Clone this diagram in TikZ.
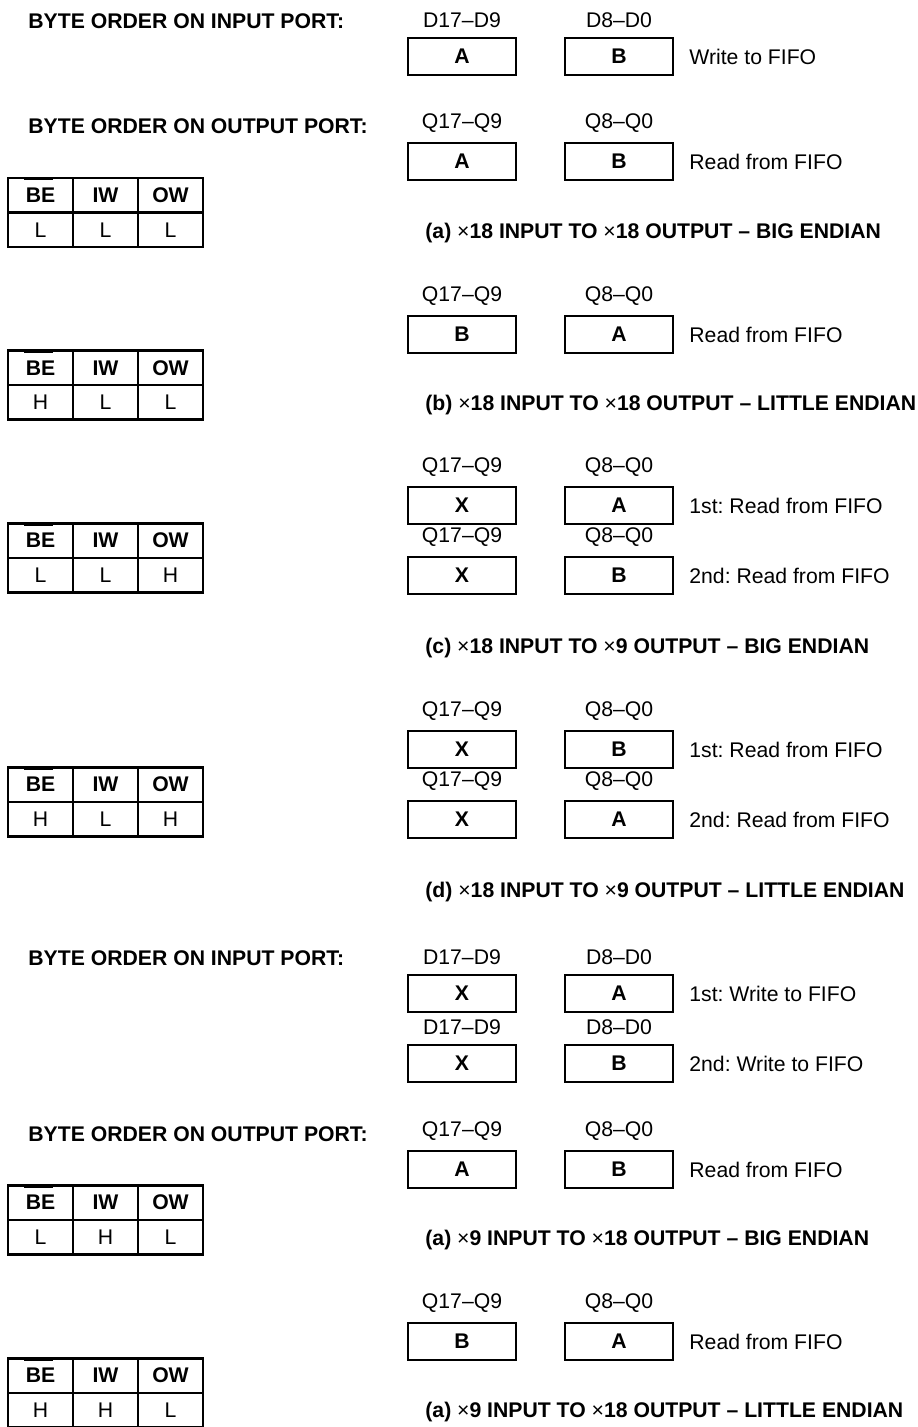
\documentclass[tikz,border=0pt]{standalone}
\usepackage{fontspec}
\setmainfont{Liberation Sans}
\usetikzlibrary{positioning}
\frenchspacing

\begin{document}
\begin{tikzpicture}[
    x=0.5pt, y=0.5pt,
    every node/.style={font=\fontsize{10.6}{12}\selectfont},
    byte/.style={rectangle, draw, line width=1.4pt, minimum width=54pt, minimum height=18.5pt, outer sep=0pt, inner sep=0pt, font=\fontsize{10.6}{12}\selectfont\bfseries},
    port/.style={inner sep=0pt},
    note/.style={inner sep=0pt},
    heading/.style={inner sep=0pt, anchor=west, font=\fontsize{10.6}{12}\selectfont\bfseries},
    caption/.style={inner sep=0pt, anchor=base west, font=\fontsize{10.6}{12}\selectfont\bfseries},
    cell/.style={rectangle, draw, line width=1.25pt, minimum width=32.5pt, minimum height=17.25pt, outer sep=0pt, inner sep=0pt},
    hcell/.style={cell, font=\fontsize{10.6}{12}\selectfont\bfseries},
    bar/.style={line width=1.7pt}
]
\useasboundingbox (0,0) rectangle (917,-1427);

% ===== (a) x18 TO x18, BIG ENDIAN =====
\node[heading] (a_hin) at (28,-21) {BYTE ORDER ON INPUT PORT:};
\node[byte] (a_in1) at (462,-56.5) {A};
\node[byte, right=24.5pt of a_in1] (a_in2) {B};
\node[port, above=4.85pt of a_in1] (a_in1_lbl) {D17–D9};
\node[port, above=4.85pt of a_in2] (a_in2_lbl) {D8–D0};
\node[note, right=8pt of a_in2] (a_in_note) {Write to FIFO};

\node[heading] (a_hout) at (28,-126) {BYTE ORDER ON OUTPUT PORT:};
\node[byte] (a_out1) at (462,-161.5) {A};
\node[byte, right=24.5pt of a_out1] (a_out2) {B};
\node[port, above=4.85pt of a_out1] (a_out1_lbl) {Q17–Q9};
\node[port, above=4.85pt of a_out2] (a_out2_lbl) {Q8–Q0};
\node[note, right=8pt of a_out2] (a_out_note) {Read from FIFO};

\node[hcell] (a_be) at (40.5,-195.25) {BE};
\node[hcell, right=0pt of a_be] (a_iw) {IW};
\node[hcell, right=0pt of a_iw] (a_ow) {OW};
\node[cell, below=0pt of a_be] (a_be_v) {L};
\node[cell, below=0pt of a_iw] (a_iw_v) {L};
\node[cell, below=0pt of a_ow] (a_ow_v) {L};
\draw[bar] ([xshift=-8.25pt,yshift=-0.3pt]a_be.north) -- ([xshift=6.25pt,yshift=-0.3pt]a_be.north);

\node[caption] (a_cap) at (425,-238.3) {(a) \textmd{×}18 INPUT TO \textmd{×}18 OUTPUT – BIG ENDIAN};

% ===== (b) x18 TO x18, LITTLE ENDIAN =====
\node[byte] (b_out1) at (462,-334.5) {B};
\node[byte, right=24.5pt of b_out1] (b_out2) {A};
\node[port, above=4.85pt of b_out1] (b_out1_lbl) {Q17–Q9};
\node[port, above=4.85pt of b_out2] (b_out2_lbl) {Q8–Q0};
\node[note, right=8pt of b_out2] (b_out_note) {Read from FIFO};

\node[hcell] (b_be) at (40.5,-368) {BE};
\node[hcell, right=0pt of b_be] (b_iw) {IW};
\node[hcell, right=0pt of b_iw] (b_ow) {OW};
\node[cell, below=0pt of b_be] (b_be_v) {H};
\node[cell, below=0pt of b_iw] (b_iw_v) {L};
\node[cell, below=0pt of b_ow] (b_ow_v) {L};
\draw[bar] ([xshift=-8.25pt,yshift=-0.3pt]b_be.north) -- ([xshift=6.25pt,yshift=-0.3pt]b_be.north);

\node[caption] (b_cap) at (425,-410.3) {(b) \textmd{×}18 INPUT TO \textmd{×}18 OUTPUT – LITTLE ENDIAN};

% ===== (c) x18 TO x9, BIG ENDIAN =====
\node[byte] (c_out1) at (462,-505.5) {X};
\node[byte, right=24.5pt of c_out1] (c_out2) {A};
\node[port, above=4.85pt of c_out1] (c_out1_lbl) {Q17–Q9};
\node[port, above=4.85pt of c_out2] (c_out2_lbl) {Q8–Q0};
\node[note, right=8pt of c_out2] (c_out_note) {1st: Read from FIFO};

\node[byte] (c_out3) at (462,-575.5) {X};
\node[byte, right=24.5pt of c_out3] (c_out4) {B};
\node[port, above=4.85pt of c_out3] (c_out3_lbl) {Q17–Q9};
\node[port, above=4.85pt of c_out4] (c_out4_lbl) {Q8–Q0};
\node[note, right=8pt of c_out4] (c_out_note2) {2nd: Read from FIFO};

\node[hcell] (c_be) at (40.5,-540.5) {BE};
\node[hcell, right=0pt of c_be] (c_iw) {IW};
\node[hcell, right=0pt of c_iw] (c_ow) {OW};
\node[cell, below=0pt of c_be] (c_be_v) {L};
\node[cell, below=0pt of c_iw] (c_iw_v) {L};
\node[cell, below=0pt of c_ow] (c_ow_v) {H};
\draw[bar] ([xshift=-8.25pt,yshift=-0.3pt]c_be.north) -- ([xshift=6.25pt,yshift=-0.3pt]c_be.north);

\node[caption] (c_cap) at (425,-653.3) {(c) \textmd{×}18 INPUT TO \textmd{×}9 OUTPUT – BIG ENDIAN};

% ===== (d) x18 TO x9, LITTLE ENDIAN =====
\node[byte] (d_out1) at (462,-749.5) {X};
\node[byte, right=24.5pt of d_out1] (d_out2) {B};
\node[port, above=4.85pt of d_out1] (d_out1_lbl) {Q17–Q9};
\node[port, above=4.85pt of d_out2] (d_out2_lbl) {Q8–Q0};
\node[note, right=8pt of d_out2] (d_out_note) {1st: Read from FIFO};

\node[byte] (d_out3) at (462,-819.5) {X};
\node[byte, right=24.5pt of d_out3] (d_out4) {A};
\node[port, above=4.85pt of d_out3] (d_out3_lbl) {Q17–Q9};
\node[port, above=4.85pt of d_out4] (d_out4_lbl) {Q8–Q0};
\node[note, right=8pt of d_out4] (d_out_note2) {2nd: Read from FIFO};

\node[hcell] (d_be) at (40.5,-784.5) {BE};
\node[hcell, right=0pt of d_be] (d_iw) {IW};
\node[hcell, right=0pt of d_iw] (d_ow) {OW};
\node[cell, below=0pt of d_be] (d_be_v) {H};
\node[cell, below=0pt of d_iw] (d_iw_v) {L};
\node[cell, below=0pt of d_ow] (d_ow_v) {H};
\draw[bar] ([xshift=-8.25pt,yshift=-0.3pt]d_be.north) -- ([xshift=6.25pt,yshift=-0.3pt]d_be.north);

\node[caption] (d_cap) at (425,-897.3) {(d) \textmd{×}18 INPUT TO \textmd{×}9 OUTPUT – LITTLE ENDIAN};

% ===== x9 TO x18, BIG ENDIAN =====
\node[heading] (e_hin) at (28,-958) {BYTE ORDER ON INPUT PORT:};
\node[byte] (e_in1) at (462,-993.5) {X};
\node[byte, right=24.5pt of e_in1] (e_in2) {A};
\node[port, above=4.85pt of e_in1] (e_in1_lbl) {D17–D9};
\node[port, above=4.85pt of e_in2] (e_in2_lbl) {D8–D0};
\node[note, right=8pt of e_in2] (e_in_note) {1st: Write to FIFO};

\node[byte] (e_in3) at (462,-1063.5) {X};
\node[byte, right=24.5pt of e_in3] (e_in4) {B};
\node[port, above=4.85pt of e_in3] (e_in3_lbl) {D17–D9};
\node[port, above=4.85pt of e_in4] (e_in4_lbl) {D8–D0};
\node[note, right=8pt of e_in4] (e_in_note2) {2nd: Write to FIFO};

\node[heading] (e_hout) at (28,-1134) {BYTE ORDER ON OUTPUT PORT:};
\node[byte] (e_out1) at (462,-1169.5) {A};
\node[byte, right=24.5pt of e_out1] (e_out2) {B};
\node[port, above=4.85pt of e_out1] (e_out1_lbl) {Q17–Q9};
\node[port, above=4.85pt of e_out2] (e_out2_lbl) {Q8–Q0};
\node[note, right=8pt of e_out2] (e_out_note) {Read from FIFO};

\node[hcell] (e_be) at (40.5,-1202.5) {BE};
\node[hcell, right=0pt of e_be] (e_iw) {IW};
\node[hcell, right=0pt of e_iw] (e_ow) {OW};
\node[cell, below=0pt of e_be] (e_be_v) {L};
\node[cell, below=0pt of e_iw] (e_iw_v) {H};
\node[cell, below=0pt of e_ow] (e_ow_v) {L};
\draw[bar] ([xshift=-8.25pt,yshift=-0.3pt]e_be.north) -- ([xshift=6.25pt,yshift=-0.3pt]e_be.north);

\node[caption] (e_cap) at (425,-1245.3) {(a) \textmd{×}9 INPUT TO \textmd{×}18 OUTPUT – BIG ENDIAN};

% ===== x9 TO x18, LITTLE ENDIAN =====
\node[byte] (f_out1) at (462,-1341.5) {B};
\node[byte, right=24.5pt of f_out1] (f_out2) {A};
\node[port, above=4.85pt of f_out1] (f_out1_lbl) {Q17–Q9};
\node[port, above=4.85pt of f_out2] (f_out2_lbl) {Q8–Q0};
\node[note, right=8pt of f_out2] (f_out_note) {Read from FIFO};

\node[hcell] (f_be) at (40.5,-1375.5) {BE};
\node[hcell, right=0pt of f_be] (f_iw) {IW};
\node[hcell, right=0pt of f_iw] (f_ow) {OW};
\node[cell, below=0pt of f_be] (f_be_v) {H};
\node[cell, below=0pt of f_iw] (f_iw_v) {H};
\node[cell, below=0pt of f_ow] (f_ow_v) {L};
\draw[bar] ([xshift=-8.25pt,yshift=-0.3pt]f_be.north) -- ([xshift=6.25pt,yshift=-0.3pt]f_be.north);

\node[caption] (f_cap) at (425,-1417.3) {(a) \textmd{×}9 INPUT TO \textmd{×}18 OUTPUT – LITTLE ENDIAN};

\end{tikzpicture}
\end{document}
